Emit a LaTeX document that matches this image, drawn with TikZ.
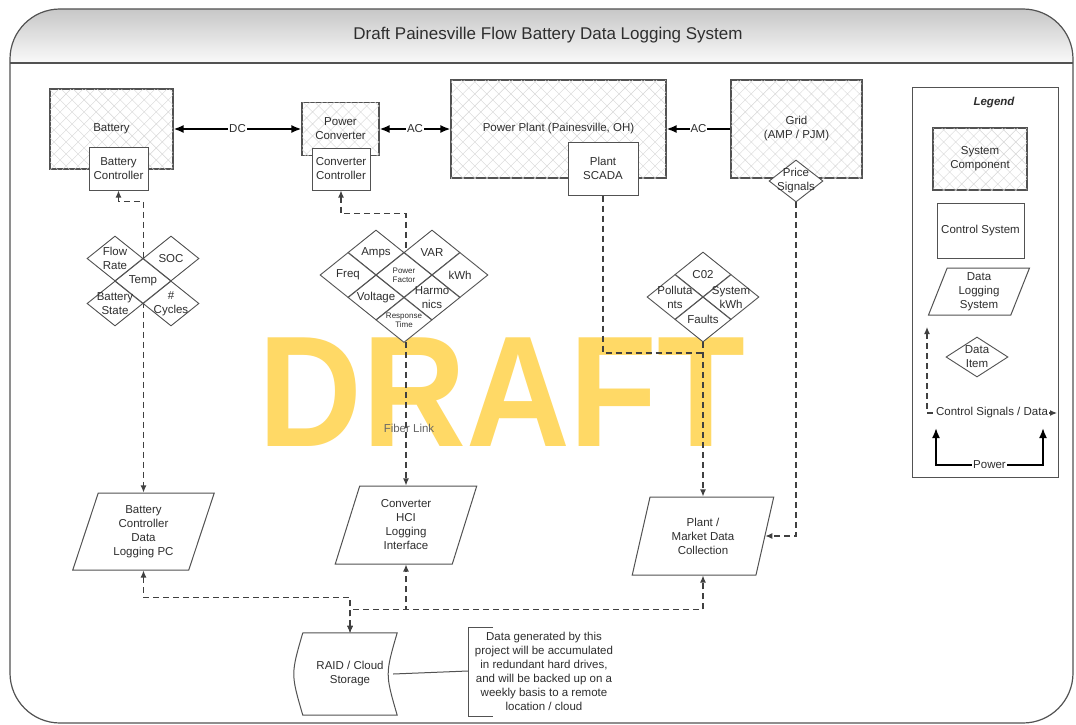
\documentclass[tikz,border=0pt]{standalone}
\usepackage{fontspec}
\setmainfont{Liberation Sans}
\usepackage{xcolor}
\usepackage{tikz}
\usetikzlibrary{arrows.meta,positioning,calc,backgrounds,shapes.geometric,patterns.meta}
\definecolor{draftyel}{RGB}{255,217,102}
\definecolor{edgegray}{gray}{0.32}
\definecolor{linkgray}{gray}{0.25}
\definecolor{hatchgray}{gray}{0.84}
\definecolor{txtgray}{gray}{0.18}
\pgfdeclarelayer{watermark}
\pgfsetlayers{watermark,background,main}
\tikzset{
  outerframe/.style={draw=edgegray,line width=1.2pt,rounded corners=50},
  syscomp/.style={draw=edgegray,line width=1.1pt,fill=white,align=center,
    postaction={pattern={Hatch[angle=45,distance=8.5pt,line width=0.4pt]},pattern color=hatchgray}},
  ctrlsys/.style={draw=edgegray,line width=1pt,fill=white,align=center,inner sep=1pt},
  logsys/.style={trapezium,trapezium left angle=64,trapezium right angle=116,
    trapezium stretches body,draw=edgegray,line width=1pt,fill=white,align=center,inner sep=0pt},
  ditem/.style={diamond,draw=edgegray,line width=0.9pt,fill=white,align=center,
    inner sep=-7pt,minimum width=56,minimum height=45},
  smalltxt/.style={font=\fontsize{8}{9}\selectfont},
  powline/.style={black,line width=1.8pt,>={Latex[length=10pt,width=8pt]}},
  dlink/.style={linkgray,line width=1.2pt,dash pattern=on 6pt off 4pt,>={Latex[length=7pt,width=6pt]}},
  lbl/.style={fill=white,inner sep=1pt},
  notebr/.style={edgegray,line width=1pt},
}

\begin{document}
\begin{tikzpicture}[x=1pt,y=-1pt,font=\fontsize{11.5}{14}\selectfont,
    every node/.append style={text=txtgray}]
  \useasboundingbox (0,0) rectangle (1076,725);
  \def\dw{28}\def\dh{22.5}

  % --- frame, header band and watermark ---
  \begin{pgfonlayer}{watermark}
    \fill[white,rounded corners=50] (10,9) rectangle (1073,723);
    \begin{scope}
      \clip[rounded corners=50] (10,9) rectangle (1073,723);
      \shade[top color=black!22,bottom color=black!2] (10,9) rectangle (1073,63);
    \end{scope}
    \draw[outerframe] (10,9) rectangle (1073,723);
    \draw[edgegray,line width=1.2pt] (10,63) -- (1073,63);
    \node[text=draftyel,font=\fontsize{158}{158}\selectfont\bfseries] (wm) at (502,392)
      {\scalebox{0.91}[1]{DRAFT}};
  \end{pgfonlayer}
  \node[font=\fontsize{17}{20}\selectfont] (title) at (548,35)
    {Draft Painesville Flow Battery Data Logging System};

  % --- system components with their controllers ---
  \node[syscomp,minimum width=123,minimum height=80] (bat) at (111.5,129) {Battery};
  \node[ctrlsys,minimum width=59,minimum height=43] (batctl) at (118.5,168.5) {Battery\\Controller};
  \node[syscomp,minimum width=77,minimum height=53] (pconv) at (340.5,129) {Power\\Converter};
  \node[ctrlsys,minimum width=58,minimum height=42] (convctl) at (341,169) {Converter\\Controller};
  \node[syscomp,minimum width=215,minimum height=98] (plant) at (558.5,129) {Power Plant (Painesville, OH)};
  \node[ctrlsys,minimum width=70,minimum height=53] (scada) at (603,168.5) {Plant\\SCADA};
  \node[syscomp,minimum width=131,minimum height=98] (grid) at (796.5,129) {Grid\\(AMP / PJM)};
  \node[ditem,minimum width=54,minimum height=42] (price) at (796,181) {Price\\Signals};

  % power flow
  \draw[powline,<->] (bat) -- node[lbl] (dclbl) {DC} (pconv);
  \draw[powline,<->] (pconv) -- node[lbl] (aclbl) {AC} (plant);
  \draw[powline,->] (grid) -- node[lbl] (aclblb) {AC} (plant);

  % --- data items: battery ---
  \node[ditem] (temp)   at (143,281)         {Temp};
  \node[ditem] (flow)   at (143-\dw,281-\dh) {Flow\\Rate};
  \node[ditem] (soc)    at (143+\dw,281-\dh) {SOC};
  \node[ditem] (bstate) at (143-\dw,281+\dh) {Battery\\State};
  \node[ditem] (cycles) at (143+\dw,281+\dh) {\#\\Cycles};
  % --- data items: converter ---
  \node[ditem,smalltxt] (pf)   at (404,275)            {Power\\Factor};
  \node[ditem] (amps)  at (404-\dw,275-\dh)   {Amps};
  \node[ditem] (var)   at (404+\dw,275-\dh)   {VAR};
  \node[ditem] (freq)  at (404-2*\dw,275)     {Freq};
  \node[ditem] (kwh)   at (404+2*\dw,275)     {kWh};
  \node[ditem] (volt)  at (404-\dw,275+\dh)   {Voltage};
  \node[ditem] (harm)  at (404+\dw,275+\dh)   {Harmo\\nics};
  \node[ditem,smalltxt] (resp) at (404,275+2*\dh) {Response\\Time};
  % --- data items: plant ---
  \node[ditem] (co2)    at (703,297-\dh) {C02};
  \node[ditem] (poll)   at (703-\dw,297) {Polluta\\nts};
  \node[ditem] (syskwh) at (703+\dw,297) {System\\kWh};
  \node[ditem] (faults) at (703,297+\dh) {Faults};

  % --- logging systems and storage ---
  \node[logsys,minimum width=141.5,minimum height=77] (batpc) at (143.5,531.5)
    {Battery\\Controller\\Data\\Logging PC};
  \node[logsys,minimum width=141.5,minimum height=78] (convpc) at (406,525)
    {Converter\\HCI\\Logging\\Interface};
  \node[logsys,minimum width=141.5,minimum height=78] (mktpc) at (703,536)
    {Plant /\\Market Data\\Collection};
  \node[fill=none,text=black!60] (fiber) at (409,428) {Fiber Link};

  \node[minimum width=94,minimum height=82,align=center] (raid) at (350,674) {RAID / Cloud\\Storage};
  \draw[edgegray,line width=1pt] (raid.north west) -- (raid.north east)
    .. controls ($(raid.east)+(-12,0)$) .. (raid.south east) -- (raid.south west)
    .. controls ($(raid.west)+(-12,0)$) .. (raid.north west);
  \node[align=center] (note) at (544,671) {Data generated by this\\project will be accumulated\\in redundant hard drives,\\and will be backed up on a\\weekly basis to a remote\\location / cloud};
  \coordinate (brk) at (468,671);
  \draw[notebr] ($(brk)+(25,-44)$) -| ($(brk)+(0,45)$) -- ++(25,0);
  \draw[notebr] ([xshift=-4]raid.east) -- (brk);

  % --- legend ---
  \node[draw=edgegray,line width=1pt,minimum width=146,minimum height=390] (legbox) at (985,282) {};
  \node[font=\fontsize{11.5}{14}\selectfont\bfseries\itshape] (legtitle) at (994,103) {Legend};
  \node[syscomp,minimum width=94,minimum height=62] (legcomp) at (980,159) {System\\Component};
  \node[ctrlsys,minimum width=87,minimum height=55] (legctrl) at (980.5,230.5) {Control System};
  \node[logsys,minimum width=101,minimum height=47] (leglog) at (979,291.5) {Data\\Logging\\System};
  \node[ditem,minimum width=62,minimum height=40] (legitem) at (977,357) {Data\\Item};
  \coordinate (cstop) at (927,327);
  \coordinate (csorg) at (927,413);
  \coordinate (csend) at (1057,413);
  \coordinate (pwa) at (936,428);
  \coordinate (pwb) at (1043,428);
  \coordinate (pwbase) at (990,465);
  \draw[powline,<->] (pwa) -- (pwa |- pwbase) -- node[lbl] (pwlbl) {Power} (pwb |- pwbase) -- (pwb);

  % --- control signals / data links (under the data items) ---
  \begin{pgfonlayer}{background}
    \draw[dlink,<->] (batctl.south) -- ++(0,11) -| (batpc.center |- batpc.north);
    \draw[dlink,<->] (convctl.south) -- ++(0,23) -| (convpc.center |- convpc.north);
    \coordinate (pjoin) at (703,353);
    \draw[dlink] (scada.south) |- (pjoin);
    \draw[dlink,->] (faults.south) -- (mktpc.center |- mktpc.north);
    \draw[dlink,->] (price.south) |- (mktpc.east);
    \draw[dlink,<->] (raid.north) -- ++(0,-35) -| (batpc.center |- batpc.south);
    \draw[dlink,<->] (raid.north) -- ++(0,-23) -| (convpc.center |- convpc.south);
    \draw[dlink,<->] (raid.north) -- ++(0,-23) -| (mktpc.center |- mktpc.south);
    \draw[dlink,<->] (cstop) -- (csorg) -- node[lbl] (cslbl) {Control Signals / Data} (csend);
  \end{pgfonlayer}
\end{tikzpicture}
\end{document}
